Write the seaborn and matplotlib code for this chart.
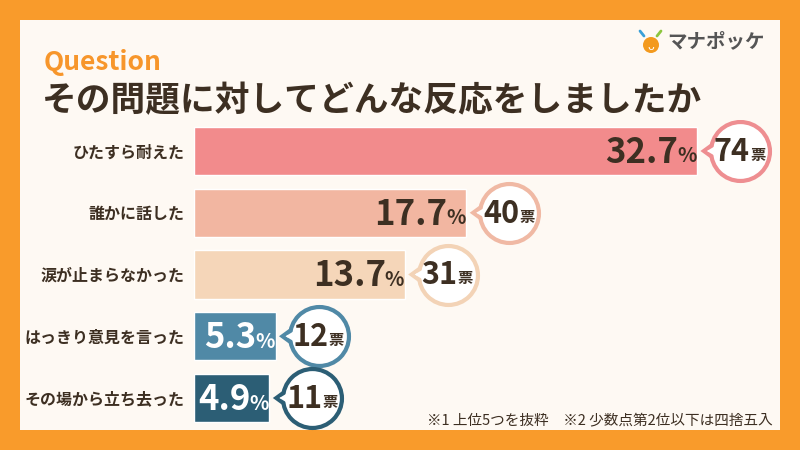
import numpy as np
import pandas as pd
import matplotlib
matplotlib.use("Agg")
import matplotlib.pyplot as plt
import seaborn as sns
from matplotlib.patches import Rectangle, Polygon, Circle

# data
categories = ["ひたすら耐えた", "誰かに話した", "涙が止まらなかった", "はっきり意見を言った", "その場から立ち去った"]
percents = [32.7, 17.7, 13.7, 5.3, 4.9]
votes = [74, 40, 31, 12, 11]
bar_colors = ["#F28B8C", "#F2B6A1", "#F5D6B9", "#5089A6", "#2C5E75"]
ring_colors = ["#EE8E91", "#F0B9A4", "#F3D3B6", "#5089A6", "#2C5E75"]
text_colors = ["#3D2F22", "#3D2F22", "#3D2F22", "white", "white"]

title_q = "Question"
title_main = "その問題に対してどんな反応をしましたか"
note = "※1 上位5つを抜粋　※2 少数点第2位以下は四捨五入"
brand = "マナポッケ"

sns.set_theme(style="white")
plt.rcParams["font.family"] = ["Noto Sans CJK JP", "DejaVu Sans"]

W, H = 800, 450
fig = plt.figure(figsize=(8, 4.5), dpi=100)
fig.patch.set_facecolor("#F99B2B")

# background frame in pixel coords
bg = fig.add_axes([0, 0, 1, 1])
bg.set_xlim(0, W)
bg.set_ylim(H, 0)
bg.axis("off")
bg.add_patch(Rectangle((20, 20), 760, 410, facecolor="#FEF9F3", edgecolor="none"))

bg.text(44, 62, title_q, fontsize=19, fontweight="bold", color="#F7962B",
        ha="left", va="center")
bg.text(42, 101, title_main, fontsize=25, fontweight="bold", color="#3D2F22",
        ha="left", va="center")
bg.text(773, 420, note, fontsize=10.5, color="#3D2F22", ha="right", va="center")

# logo
bg.add_patch(Circle((651, 45), 8, facecolor="#F39A1E", edgecolor="none"))
bg.plot([640, 644], [31, 36], color="#3AA0D8", lw=2)
bg.plot([661, 657], [31, 36], color="#8DC63F", lw=2)
bg.text(651, 47, "ᴗ", fontsize=8, color="white", ha="center", va="center",
        family=["DejaVu Sans"])
bg.text(667, 42, brand, fontsize=14, fontweight="bold", color="#555555",
        ha="left", va="center")

# bar axes: left edge at 194px, top 120px, bottom 430px
x0, x1 = 194, 780
y0, y1 = 120, 430
ax = fig.add_axes([x0 / W, 1 - y1 / H, (x1 - x0) / W, (y1 - y0) / H])
ax.patch.set_alpha(0)

df = pd.DataFrame({"cat": categories, "pct": percents})
sns.barplot(data=df, x="pct", y="cat", hue="cat", palette=bar_colors,
            legend=False, width=0.78, saturation=1, ax=ax)

px_per_x = 15.38
xmax = (x1 - x0) / px_per_x
ax.set_xlim(0, xmax)
step = 61.75
ax.set_ylim(4 + (y1 - 398) / step, -(151 - y0) / step)
ax.set_xlabel("")
ax.set_ylabel("")
ax.set_xticks([])
ax.tick_params(axis="y", length=0, pad=7)
ax.set_yticklabels(categories, fontsize=11.5, fontweight="bold", color="#3D2F22")
for s in ax.spines.values():
    s.set_visible(False)

dx = 1 / px_per_x   # data units per px (x)
dy = 1 / step       # data units per px (y)

for i, (p, v) in enumerate(zip(percents, votes)):
    tc = text_colors[i]
    ax.text(p - 19 * dx, i + 1.5 * dy, f"{p:.1f}", fontsize=25, fontweight="bold",
            color=tc, ha="right", va="center")
    ax.text(p - 20 * dx, i + 5 * dy, "%", fontsize=14.5, fontweight="bold",
            color=tc, ha="left", va="center")

    cx = p + 43 * dx
    col = ring_colors[i]
    # pointer
    tri = Polygon([(p + 7 * dx, i), (p + 18 * dx, i - 8 * dy), (p + 18 * dx, i + 8 * dy)],
                  closed=True, facecolor="white", edgecolor=col, lw=3, zorder=3,
                  joinstyle="miter")
    ax.add_patch(tri)
    ax.scatter([cx], [i], s=1800, facecolor="white", edgecolor=col,
               linewidth=3, zorder=4)
    cover = Polygon([(p + 10 * dx, i), (p + 20 * dx, i - 6 * dy), (p + 20 * dx, i + 6 * dy)],
                    closed=True, facecolor="white", edgecolor="none", zorder=5)
    ax.add_patch(cover)
    ax.text(cx + 10 * dx, i + 1 * dy, str(v), fontsize=22, fontweight="bold",
            color="#3D2F22", ha="right", va="center", zorder=6)
    ax.text(cx + 10 * dx, i + 4 * dy, "票", fontsize=11, fontweight="bold",
            color="#3D2F22", ha="left", va="center", zorder=6)

fig.savefig("out.png", dpi=100, facecolor=fig.get_facecolor())
